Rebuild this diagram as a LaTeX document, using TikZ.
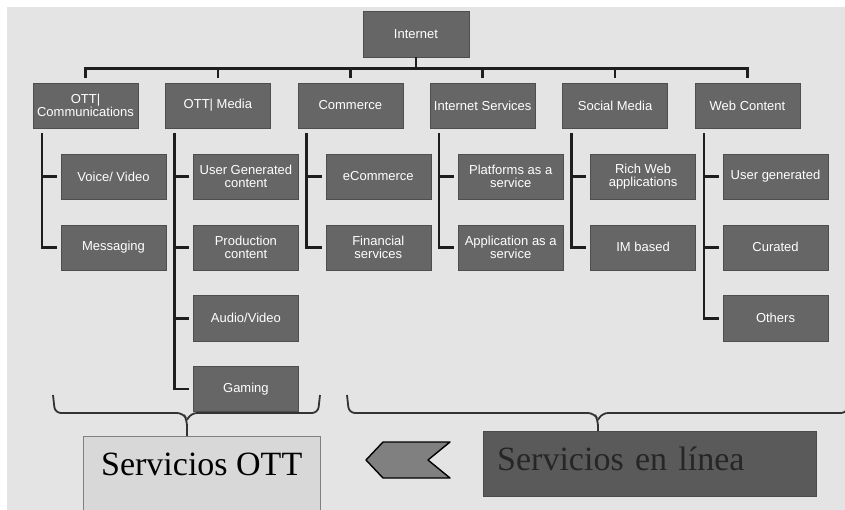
\documentclass[tikz,border=0pt]{standalone}
\usepackage{fontspec}
\setmainfont{Liberation Serif}
\setsansfont{Liberation Sans}
\usetikzlibrary{positioning,calc}
\definecolor{Panel}{HTML}{E4E4E4}
\definecolor{Box}{HTML}{666666}
\definecolor{BoxLine}{HTML}{4E4E4E}
\definecolor{Wire}{HTML}{1E1E1E}
\definecolor{Pale}{HTML}{D8D8D8}
\definecolor{Deep}{HTML}{5A5A5A}
\tikzset{
  cat/.style={draw=BoxLine,fill=Box,text=white,minimum width=105pt,minimum height=45pt,
    inner sep=1pt,align=center,font=\sffamily\fontsize{13}{13.5}\selectfont},
  wire/.style={draw=Wire,line width=2.6pt},
  bracket/.style={draw=black!80,line width=1.8pt,rounded corners=6pt},
  tag/.style={anchor=north west,inner ysep=0pt,text height=39pt,font=\fontsize{34}{36}\selectfont}
}

\begin{document}
\begin{tikzpicture}[x=1pt,y=-1pt,node distance=25.5pt and 27pt]
  \useasboundingbox (0,0) rectangle (845,510);
  \clip (0,0) rectangle (845,510);
  \fill[Panel] (7,7) rectangle (845,510);

  % the two groups at the bottom
  \node[tag,draw=black!50,fill=Pale,minimum width=237pt,text depth=40pt] (ott) at (83,436) {Servicios OTT};
  \node[tag,draw=black!70,fill=Deep,text=black!85,text width=305pt,inner xsep=14pt,
    align=left,text depth=26pt] (online) at (483,431) {Servicios en línea};

  % braces over the groups
  \draw[bracket] (53,395) -- (55,413) -- (183,413) -- (187,420) -- (187,420 |- ott.north);
  \draw[bracket] (320,395) -- (318,413) -- (191,413) -- (187,420);
  \draw[bracket] (347,395) -- (349,413) -- (594,413) -- (598,420) -- (598,420 |- online.north);
  \draw[bracket] (849,395) -- (847,413) -- (602,413) -- (598,420);

  % chevron between the groups
  \draw[fill=black!50,line width=1.4pt,line join=round]
    (366,460) -- (383,442) -- (450,442) -- (428,460) -- (450,478) -- (383,478) -- cycle;

  % tree
  \node[cat,minimum width=106pt,minimum height=46pt] (internet) at (416,34) {Internet};
  \node[cat] (comm) at (85.5,105.5) {OTT|\\Communications};
  \node[cat,right=of comm] (media) {OTT| Media};
  \node[cat,right=of media] (commerce) {Commerce};
  \node[cat,right=of commerce] (isvc) {Internet Services};
  \node[cat,right=of isvc] (social) {Social Media};
  \node[cat,right=of social] (web) {Web Content};

  \node[cat,below=of comm,xshift=28pt] (voice) {Voice/ Video};
  \node[cat,below=of voice] (msg) {Messaging};

  \node[cat,below=of media,xshift=28pt] (ugc) {User Generated\\content};
  \node[cat,below=of ugc] (prod) {Production\\content};
  \node[cat,below=of prod] (av) {Audio/Video};
  \node[cat,below=of av] (gaming) {Gaming};

  \node[cat,below=of commerce,xshift=28pt] (ecom) {eCommerce};
  \node[cat,below=of ecom] (fin) {Financial\\services};

  \node[cat,below=of isvc,xshift=28pt] (paas) {Platforms as a\\service};
  \node[cat,below=of paas] (aaas) {Application as a\\service};

  \node[cat,below=of social,xshift=28pt] (rich) {Rich Web\\applications};
  \node[cat,below=of rich] (im) {IM based};

  \node[cat,below=of web,xshift=28pt] (usergen) {User generated};
  \node[cat,below=of usergen] (curated) {Curated};
  \node[cat,below=of curated] (others) {Others};

  % bus under Internet
  \coordinate (bus) at ([yshift=14pt]comm.north);
  \draw[wire] (internet.south) -- (internet.south |- bus);
  \draw[wire] ([yshift=5pt]comm.north) |- (bus -| web.north) -- ([yshift=5pt]web.north);
  \foreach \c in {media,commerce,isvc,social}
    \draw[wire] (bus -| \c.north) -- ([yshift=5pt]\c.north);

  % links to the leaves
  \foreach \p/\c in {comm/voice,comm/msg,media/ugc,media/prod,media/av,media/gaming,
      commerce/ecom,commerce/fin,isvc/paas,isvc/aaas,social/rich,social/im,
      web/usergen,web/curated,web/others}
    \draw[wire,shorten <=5pt,shorten >=4pt] ([xshift=9pt]\p.south west) |- (\c.west);
\end{tikzpicture}
\end{document}
